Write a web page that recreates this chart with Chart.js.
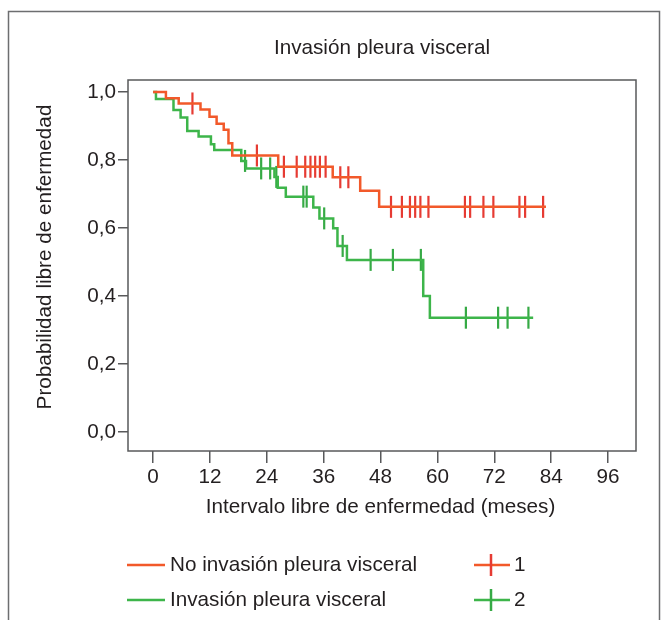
<!DOCTYPE html>
<html>
<head>
<meta charset="utf-8">
<script src="https://cdn.jsdelivr.net/npm/chart.js@4.4.0/dist/chart.umd.min.js"></script>
<style>
  body { margin: 0; background: #fff; }
  #wrap { width: 668px; height: 620px; position: relative; }
</style>
</head>
<body>
<div id="wrap"><canvas id="kmChart"></canvas></div>
<script>
// Kaplan-Meier: step times (months) and survival after each step
const chartTitle = 'Invasión pleura visceral';
const xTitle = 'Intervalo libre de enfermedad (meses)';
const yTitle = 'Probabilidad libre de enfermedad';
const seriesNames = ['No invasión pleura visceral', 'Invasión pleura visceral'];
const censorNames = ['1', '2'];

const xTicks = [0, 12, 24, 36, 48, 60, 72, 84, 96];
const yTicks = [0, 0.2, 0.4, 0.6, 0.8, 1.0];

const noInvTimes = [0, 2.7, 5.4, 10.0, 11.9, 13.4, 14.9, 15.9, 16.7, 26.4, 37.9, 43.7, 47.7, 82.9];
const noInvSurv  = [1.0, 0.981, 0.966, 0.948, 0.927, 0.906, 0.889, 0.849, 0.813, 0.780, 0.749, 0.709, 0.662, 0.662];
const noInvCensored = [8.3, 21.9, 27.6, 30.3, 32.1, 33.2, 34.2, 35.2, 36.4, 39.5, 41.2,
  50.2, 52.5, 54.2, 55.3, 56.4, 58.1, 65.8, 66.9, 69.7, 71.8, 77.3, 78.5, 82.3];

const invTimes = [0, 0.6, 4.3, 5.8, 7.2, 9.6, 12.2, 12.9, 18.6, 19.6, 25.6, 26.3, 28.0,
  33.8, 35.1, 38.0, 38.9, 40.9, 57.0, 58.4, 80.2];
const invSurv  = [1.0, 0.979, 0.947, 0.925, 0.885, 0.869, 0.846, 0.829, 0.797, 0.775, 0.750, 0.718, 0.692,
  0.660, 0.628, 0.599, 0.547, 0.506, 0.400, 0.336, 0.336];
const invCensored = [19.4, 22.8, 24.7, 26.0, 31.7, 32.4, 36.1, 40.0, 45.9, 50.6, 56.5,
  66.0, 72.8, 74.8, 79.2];

const RED = '#f2592a', RED_TICK = '#e63b33';
const GREEN = '#3db54a', GREEN_TICK = '#36aa45';
const FONT = "'Liberation Sans', Arial, sans-serif";
const FS = 20.7;
const TXT = '#231f20';

function survAt(times, surv, t) {
  let s = surv[0];
  for (let i = 0; i < times.length; i++) if (times[i] <= t) s = surv[i];
  return s;
}
const curve = (times, surv) => times.map((t, i) => ({x: t, y: surv[i]}));
const marks = (times, surv, cens) => cens.map(t => ({x: t, y: survAt(times, surv, t)}));

const decor = {
  id: 'decor',
  beforeDraw(chart) {
    const ctx = chart.ctx;
    ctx.save();
    ctx.fillStyle = '#fff';
    ctx.fillRect(0, 0, chart.width, chart.height);
    ctx.strokeStyle = '#6d6e70';
    ctx.lineWidth = 1.5;
    ctx.strokeRect(8.5, 11.5, 651, 640);
    ctx.restore();
  },
  afterDraw(chart) {
    const ctx = chart.ctx, a = chart.chartArea;
    const xs = chart.scales.x;
    ctx.save();
    ctx.strokeStyle = '#58595b';
    ctx.lineWidth = 1.5;
    ctx.strokeRect(a.left, a.top, a.right - a.left, a.bottom - a.top);

    ctx.fillStyle = TXT;
    ctx.font = FS + 'px ' + FONT;
    ctx.textAlign = 'center';
    ctx.textBaseline = 'middle';
    ctx.fillText(chartTitle, (a.left + a.right) / 2, 48);
    ctx.fillText(xTitle, (xs.getPixelForValue(0) + xs.getPixelForValue(96)) / 2, 507);

    ctx.save();
    ctx.translate(45, 257);
    ctx.rotate(-Math.PI / 2);
    ctx.fillText(yTitle, 0, 0);
    ctx.restore();

    // legend: line swatches on the left, censor crosses on the right
    const rows = [565, 600];
    const cols = [RED, GREEN], ticks = [RED_TICK, GREEN_TICK];
    ctx.textAlign = 'left';
    rows.forEach((y, i) => {
      ctx.strokeStyle = cols[i];
      ctx.lineWidth = 2.5;
      ctx.beginPath();
      ctx.moveTo(127, y); ctx.lineTo(165, y);
      ctx.stroke();
      ctx.fillText(seriesNames[i], 170, y);

      ctx.beginPath();
      ctx.moveTo(474, y); ctx.lineTo(510, y);
      ctx.stroke();
      ctx.strokeStyle = ticks[i];
      ctx.beginPath();
      ctx.moveTo(491, y - 11); ctx.lineTo(491, y + 11);
      ctx.stroke();
      ctx.fillText(censorNames[i], 514, y);
    });
    ctx.restore();
  }
};

Chart.defaults.font.family = FONT;
Chart.defaults.color = TXT;

new Chart(document.getElementById('kmChart'), {
  type: 'line',
  data: {
    datasets: [
      { label: seriesNames[0], data: curve(noInvTimes, noInvSurv), stepped: true,
        borderColor: RED, borderWidth: 2.5, pointRadius: 0, fill: false },
      { label: censorNames[0], data: marks(noInvTimes, noInvSurv, noInvCensored), showLine: false,
        pointStyle: 'line', rotation: 90, pointRadius: 11, borderColor: RED_TICK, pointBorderWidth: 2.2 },
      { label: seriesNames[1], data: curve(invTimes, invSurv), stepped: true,
        borderColor: GREEN, borderWidth: 2.5, pointRadius: 0, fill: false },
      { label: censorNames[1], data: marks(invTimes, invSurv, invCensored), showLine: false,
        pointStyle: 'line', rotation: 90, pointRadius: 11, borderColor: GREEN_TICK, pointBorderWidth: 2.2 }
    ]
  },
  options: {
    responsive: true,
    maintainAspectRatio: false,
    animation: false,
    events: [],
    layout: { padding: { top: 80, right: 32, left: 0, bottom: 0 } },
    plugins: { legend: { display: false }, title: { display: false }, tooltip: { enabled: false } },
    scales: {
      x: {
        type: 'linear',
        min: -5.3, max: 101.9,
        afterBuildTicks: s => { s.ticks = xTicks.map(v => ({value: v})); },
        afterFit: s => { s.height = 169; },
        border: { display: false },
        grid: { drawOnChartArea: false, drawTicks: true, tickLength: 12, color: '#58595b', lineWidth: 1.5 },
        ticks: { font: { size: FS }, padding: 2, maxRotation: 0, color: TXT }
      },
      y: {
        type: 'linear',
        min: -0.056, max: 1.035,
        afterBuildTicks: s => { s.ticks = yTicks.map(v => ({value: v})); },
        afterFit: s => { s.width = 128; },
        border: { display: false },
        grid: { drawOnChartArea: false, drawTicks: true, tickLength: 10, color: '#58595b', lineWidth: 1.5 },
        ticks: { font: { size: FS }, padding: 2, color: TXT,
          callback: v => v.toFixed(1).replace('.', ',') }
      }
    }
  },
  plugins: [decor]
});
</script>
</body>
</html>
